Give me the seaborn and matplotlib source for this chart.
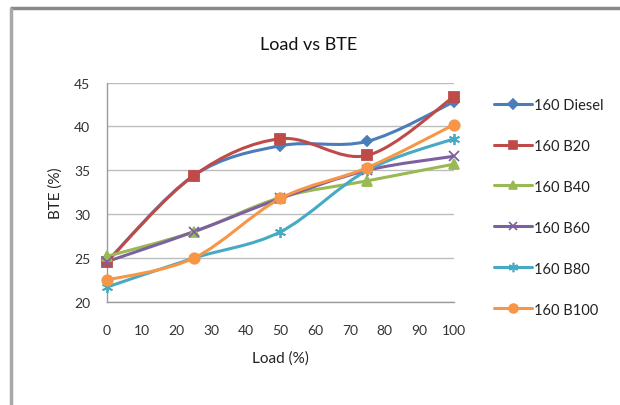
import numpy as np
import pandas as pd
import matplotlib
matplotlib.use("Agg")
import matplotlib.pyplot as plt
from matplotlib.path import Path
from matplotlib.patches import PathPatch
from matplotlib.lines import Line2D
import seaborn as sns

# values
load = [0, 25, 50, 75, 100]
diesel = [24.6, 34.4, 37.8, 38.3, 42.8]
b20 = [24.6, 34.4, 38.6, 36.7, 43.4]
b40 = [25.2, 28.0, 31.9, 33.8, 35.7]
b60 = [24.6, 28.0, 31.8, 35.0, 36.6]
b80 = [21.7, 25.0, 28.0, 35.0, 38.6]
b100 = [22.5, 25.0, 31.8, 35.3, 40.2]

names = ["160 Diesel", "160 B20", "160 B40", "160 B60", "160 B80", "160 B100"]
series = [diesel, b20, b40, b60, b80, b100]
colors = ["#4A7EBB", "#BE4B48", "#98B954", "#7D60A0", "#46AAC5", "#F79646"]
markers = ["D", "s", "^", "x", (6, 2, 0), "o"]
msizes = [5.5, 7.5, 7.5, 7, 8, 7.5]

sns.set_theme(style="white")
plt.rcParams["font.family"] = ["Lato", "DejaVu Sans"]


def smooth_path(xs, ys, t=1 / 6):
    # Excel-style smoothed line: cubic bezier through the points
    pts = np.column_stack([xs, ys]).astype(float)
    n = len(pts)
    verts = [pts[0]]
    codes = [Path.MOVETO]
    for i in range(n - 1):
        p_prev = pts[i - 1] if i > 0 else pts[i]
        p_next2 = pts[i + 2] if i + 2 < n else pts[i + 1]
        c1 = pts[i] + (pts[i + 1] - p_prev) * t
        c2 = pts[i + 1] - (p_next2 - pts[i]) * t
        verts += [c1, c2, pts[i + 1]]
        codes += [Path.CURVE4] * 3
    return Path(verts, codes)


fig = plt.figure(figsize=(6.2, 4.06), dpi=100)
ax = fig.add_axes([0.1726, 0.2537, 0.7322 - 0.1726, 0.7943 - 0.2537])

df = pd.DataFrame({"load": load * len(series),
                   "bte": np.concatenate(series),
                   "fuel": np.repeat(names, len(load))})

for name, col, mk, ms in zip(names, colors, markers, msizes):
    sub = df[df["fuel"] == name]
    ax.add_patch(PathPatch(smooth_path(sub["load"], sub["bte"]), facecolor="none",
                           edgecolor=col, lw=2.2, zorder=3))
    sns.lineplot(data=sub, x="load", y="bte", ax=ax, color=col, marker=mk,
                 markersize=ms, markeredgecolor=col, markeredgewidth=1.3,
                 linewidth=0, clip_on=False, zorder=4, legend=False)

ax.set_xlim(0, 100)
ax.set_ylim(20, 45)
ax.set_xticks(range(0, 101, 10))
ax.set_yticks(range(20, 46, 5))
ax.grid(axis="y", color="#BDBDBD", lw=1)
for s in ["top", "right"]:
    ax.spines[s].set_visible(False)
for s in ["left", "bottom"]:
    ax.spines[s].set_color("#9A9A9A")
    ax.spines[s].set_linewidth(1)
ax.tick_params(axis="both", direction="out", length=4, width=1, color="#9A9A9A",
               labelsize=10, labelcolor="#333333", pad=8)
ax.tick_params(axis="x", pad=12)
ax.set_xlabel("Load (%)", fontsize=11, color="#222222", labelpad=10)
ax.set_ylabel("BTE (%)", fontsize=11, color="#222222", labelpad=8)

fig.text(0.497, 0.889, "Load vs BTE", ha="center", va="center", fontsize=13, color="#111111")

handles = [Line2D([], [], color=c, lw=2.2, marker=m, markersize=s * 0.85, markeredgecolor=c,
                  markeredgewidth=1.2) for c, m, s in zip(colors, markers, msizes)]
fig.legend(handles, names, loc="upper left", bbox_to_anchor=(0.785, 0.775), frameon=False,
           fontsize=10.5, labelspacing=1.85, handlelength=2.6, handletextpad=0.15,
           borderpad=0, labelcolor="#222222")

# chart frame edges
fig.add_artist(Line2D([0.016, 1.02], [0.978, 0.978], color="#8A8A8A", lw=2.5,
                      solid_capstyle="butt"))
fig.add_artist(Line2D([0.018, 0.018], [-0.02, 0.978], color="#A8A8A8", lw=2.5,
                      solid_capstyle="butt"))

fig.savefig("out.png", dpi=100)
